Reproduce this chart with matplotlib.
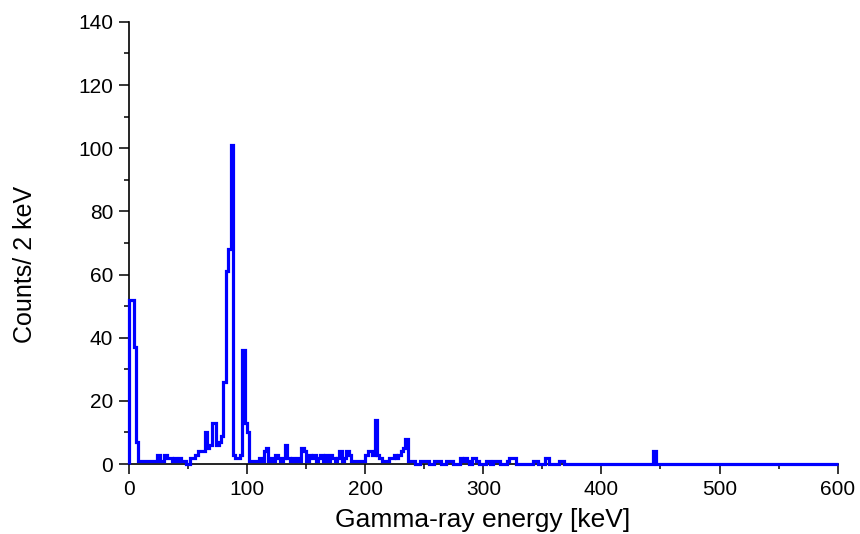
import numpy as np
import matplotlib
matplotlib.use("Agg")
import matplotlib.pyplot as plt
from matplotlib.ticker import MultipleLocator

# Gamma-ray spectrum, 2 keV bins starting at 0 keV
bin_width_kev = 2
counts_0_98 = [
    52, 52, 37, 7, 1, 1, 1, 1, 1, 1,      # 0-18
    1, 1, 3, 1, 1, 3, 2, 2, 1, 2,         # 20-38
    1, 2, 1, 1, 0, 0, 2, 2, 3, 4,         # 40-58
    4, 4, 10, 5, 6, 13, 13, 6, 7, 9,      # 60-78
    26, 61, 68, 101, 3, 2, 2, 3, 36, 13,  # 80-98
]
counts_100_198 = [
    10, 1, 1, 1, 1, 2, 1, 4, 5, 1,        # 100-118
    2, 1, 3, 2, 1, 2, 6, 2, 1, 2,         # 120-138
    1, 2, 1, 5, 4, 1, 3, 2, 3, 1,         # 140-158
    2, 3, 1, 3, 1, 3, 2, 1, 2, 4,         # 160-178
    1, 2, 4, 3, 1, 1, 1, 1, 1, 1,         # 180-198
]
counts_200_298 = [
    3, 4, 4, 3, 14, 3, 2, 1, 1, 1,        # 200-218
    2, 2, 3, 2, 3, 4, 5, 8, 1, 1,         # 220-238
    1, 0, 0, 1, 1, 1, 1, 0, 0, 1,         # 240-258
    1, 1, 0, 0, 1, 1, 1, 0, 0, 0,         # 260-278
    2, 1, 2, 1, 0, 2, 2, 1, 0, 0,         # 280-298
]
counts_300_398 = [
    0, 1, 1, 0, 1, 1, 1, 0, 0, 0,         # 300-318
    1, 2, 2, 2, 0, 0, 0, 0, 0, 0,         # 320-338
    0, 1, 1, 0, 0, 0, 2, 2, 0, 0,         # 340-358
    0, 0, 1, 1, 0, 0, 0, 0, 0, 0,         # 360-378
    0, 0, 0, 0, 0, 0, 0, 0, 0, 0,         # 380-398
]
counts_400_498 = [
    0, 0, 0, 0, 0, 0, 0, 0, 0, 0,         # 400-418
    0, 0, 0, 0, 0, 0, 0, 0, 0, 0,         # 420-438
    0, 0, 4, 0, 0, 0, 0, 0, 0, 0,         # 440-458
    0, 0, 0, 0, 0, 0, 0, 0, 0, 0,         # 460-478
    0, 0, 0, 0, 0, 0, 0, 0, 0, 0,         # 480-498
]
counts_500_598 = [0] * 50

counts = np.array(counts_0_98 + counts_100_198 + counts_200_298
                  + counts_300_398 + counts_400_498 + counts_500_598, dtype=float)
edges = np.arange(len(counts) + 1) * bin_width_kev

x_ticks = [0, 100, 200, 300, 400, 500, 600]
y_ticks = [0, 20, 40, 60, 80, 100, 120, 140]

plt.rcParams['font.family'] = ['Liberation Sans', 'DejaVu Sans']

fig = plt.figure(figsize=(8.6, 5.34), dpi=100)
ax = fig.add_axes([0.150, 0.131, 0.824, 0.828])

ax.stairs(counts, edges, baseline=0, color='#0000ff', linewidth=2.3,
          zorder=5, clip_on=False)

ax.set_xlim(0, 600)
ax.set_ylim(0, 140)
ax.set_xticks(x_ticks)
ax.set_yticks(y_ticks)
ax.xaxis.set_minor_locator(MultipleLocator(50))
ax.yaxis.set_minor_locator(MultipleLocator(10))

for side in ('top', 'right'):
    ax.spines[side].set_visible(False)
for side in ('left', 'bottom'):
    ax.spines[side].set_linewidth(1.2)

ax.tick_params(which='major', direction='out', length=7.5, width=1.1,
               labelsize=15, pad=4, colors='black')
ax.tick_params(which='minor', direction='out', length=3.8, width=1.1)

ax.set_xlabel('Gamma-ray energy [keV]', fontsize=19)
ax.set_ylabel('Counts/ 2 keV', fontsize=18)
ax.xaxis.set_label_coords(0.4986, -0.100)
ax.yaxis.set_label_coords(-0.130, 0.452)

fig.savefig('out.png', dpi=100, facecolor='white')
